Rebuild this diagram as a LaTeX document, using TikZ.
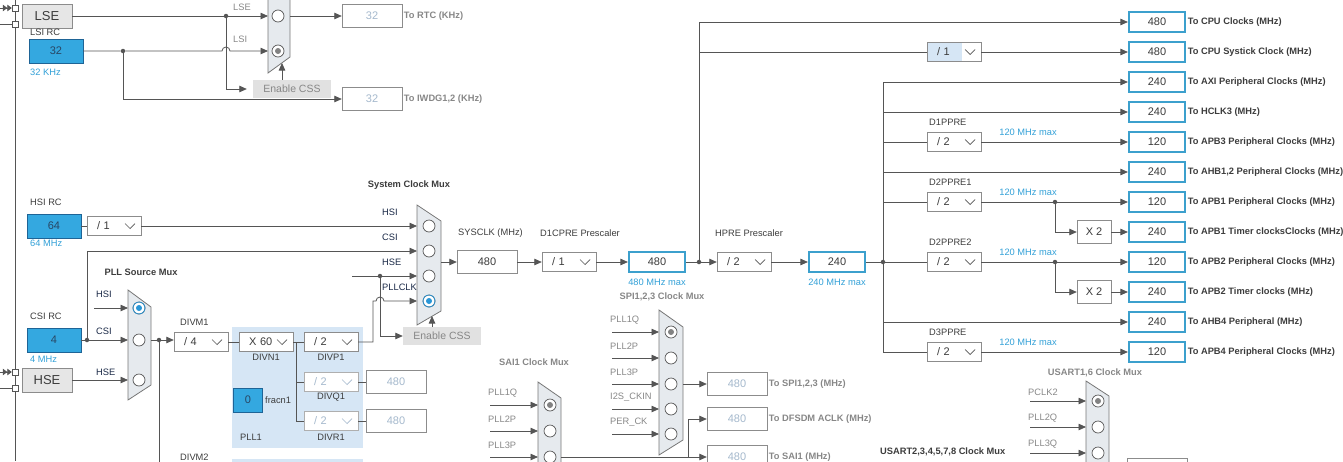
\documentclass[tikz,border=0pt]{standalone}
\usepackage{fontspec}
\setmainfont{Liberation Sans}
\usetikzlibrary{arrows.meta,calc}

\definecolor{linec}{RGB}{85,85,85}
\definecolor{boxedge}{RGB}{140,140,140}
\definecolor{darkc}{RGB}{60,60,60}
\definecolor{navyc}{RGB}{25,40,70}
\definecolor{offc}{RGB}{165,185,205}
\definecolor{graytxt}{RGB}{135,135,135}
\definecolor{bluetxt}{RGB}{50,160,215}
\definecolor{srcblue}{RGB}{52,168,224}
\definecolor{srcedge}{RGB}{30,100,150}
\definecolor{srctxt}{RGB}{40,70,100}
\definecolor{outblue}{RGB}{60,160,205}
\definecolor{selblue}{RGB}{40,150,215}
\definecolor{selgray}{RGB}{130,130,130}
\definecolor{pllbg}{RGB}{214,230,245}
\definecolor{muxfill}{RGB}{230,234,238}
\definecolor{oscfill}{RGB}{230,230,230}
\definecolor{cssfill}{RGB}{225,225,225}

\newcommand\lblf{\fontsize{9.3}{11}\selectfont}
\newcommand\valf{\fontsize{11}{13}\selectfont}

\tikzset{
  wire/.style={draw=linec, line width=0.8pt},
  arr/.style={wire, -{Triangle[length=7.5pt,width=6.5pt]}},
  jdot/.style={circle, fill=linec, inner sep=0pt, minimum size=4.5pt},
  pinbox/.style={draw=linec, fill=white, minimum size=6pt, inner sep=0pt},
  lbl/.style={font=\lblf, text=darkc, inner sep=1pt},
  boldlbl/.style={font=\lblf\bfseries, text=darkc, inner sep=1pt},
  navylbl/.style={font=\lblf, text=navyc, inner sep=1pt},
  offlbl/.style={font=\lblf, text=graytxt, inner sep=1pt},
  offbold/.style={font=\lblf\bfseries, text=graytxt, inner sep=1pt},
  bluelbl/.style={font=\lblf, text=bluetxt, inner sep=1pt},
  outlbl/.style={font=\lblf\bfseries, text=darkc, inner sep=1.5pt},
  offout/.style={font=\lblf\bfseries, text=graytxt, inner sep=1.5pt},
  srcbox/.style={draw=srcedge, fill=srcblue, minimum width=54pt, minimum height=24pt, inner sep=0pt, font=\valf, text=srctxt},
  oscbox/.style={draw=boxedge, fill=oscfill, minimum width=50pt, minimum height=24pt, inner sep=0pt, font=\fontsize{13}{15}\selectfont, text=darkc},
  valbox/.style={draw=boxedge, fill=white, minimum width=60pt, minimum height=23pt, inner sep=0pt, font=\valf, text=darkc},
  offbox/.style={valbox, text=offc},
  outbox/.style={draw=outblue, line width=2.2pt, fill=white, minimum width=56pt, minimum height=20pt, inner sep=0pt, font=\valf, text=darkc},
  cssbox/.style={fill=cssfill, minimum width=78pt, minimum height=18pt, inner sep=0pt, font=\fontsize{10.5}{12}\selectfont, text=graytxt},
  divbox/.style={draw=boxedge, fill=white, minimum height=19pt, text width=34pt, inner xsep=10pt, inner ysep=0pt, align=left, font=\valf, text=darkc,
    path picture={\draw[#1, line width=0.7pt] ([xshift=-16pt,yshift=2.5pt]path picture bounding box.east) -- ++(5pt,-5pt) -- ++(5pt,5pt);}},
  divbox/.default=linec,
  divoff/.style={divbox=offc, draw=boxedge!70, text=offc},
  divblue/.style={divbox, path picture={\fill[pllbg] (path picture bounding box.south west) rectangle ([xshift=-19pt]path picture bounding box.north east);
    \draw[linec, line width=0.7pt] ([xshift=-16pt,yshift=2.5pt]path picture bounding box.east) -- ++(5pt,-5pt) -- ++(5pt,5pt);}},
  mux/.style={draw=linec!80, fill=muxfill, line width=0.8pt},
  radio/.style={circle, draw=linec, line width=0.7pt, fill=white, minimum size=12pt, inner sep=0pt}
}

\begin{document}
\begin{tikzpicture}[x=1pt,y=-1pt]
\useasboundingbox (0,0) rectangle (1343,461);

% left bus and oscillators
\draw[wire] (15,0) -- (15,461);
\node[oscbox] (lse) at (47,16) {LSE};
\node[pinbox] (lsep1) at (15,8) {};
\node[pinbox] (lsep2) at (15,24) {};
\coordinate (lsein1) at (0,8);
\coordinate (lsein2) at (0,24);
\draw[wire, -{Triangle[length=4.5pt,width=6.5pt] Triangle[length=4.5pt,width=6.5pt]}] (lsein1) -- (lsep1);
\draw[wire] (lsein2) -- (lsep2);
\node[oscbox] (hse) at (47,380) {HSE};
\node[pinbox] (hsep1) at (15,372) {};
\node[pinbox] (hsep2) at (15,388) {};
\coordinate (hsein1) at (0,372);
\coordinate (hsein2) at (0,388);
\draw[wire, -{Triangle[length=4.5pt,width=6.5pt] Triangle[length=4.5pt,width=6.5pt]}] (hsein1) -- (hsep1);
\draw[wire] (hsein2) -- (hsep2);

% LSI and RTC mux
\node[lbl, anchor=west] at (29,32) {LSI RC};
\node[srcbox] (lsi) at (56,51) {32};
\node[bluelbl, anchor=west] at (29,72) {32 KHz};
\draw[mux] (268,-20) -- (290,-4) -- (290,57) -- (268,73) -- cycle;
\coordinate (rtcL) at (268,0);
\coordinate (rtcR) at (290,0);
\coordinate (rtcB) at (282,63);
\node[radio] (rtc1) at (278,16) {};
\node[radio] (rtc2) at (278,51) {};
\fill[selgray] (rtc2) circle (3pt);
\node[offlbl, anchor=west] at (232,7) {LSE};
\node[offlbl, anchor=west] at (232,39) {LSI};
\node[jdot] (lsedot) at (226,16) {};
\node[jdot] (lsidot) at (123,51) {};
\coordinate (hop1) at (226,51);
\draw[arr] (lse) -- (lsedot) -- (rtc1 -| rtcL);
\draw[arr] (lsi) -- (lsidot) -- ([xshift=-4pt]hop1) arc[start angle=180,end angle=0,radius=4pt] -- (rtc2 -| rtcL);
\node[cssbox] (css1) at (292,89) {Enable CSS};
\draw[arr, shorten >=6pt] (lsedot) |- (css1);
\draw[arr] (css1.north -| rtcB) -- (rtcB);
\node[offbox] (rtc) at (372,16) {32};
\node[offout, anchor=west] at (rtc.east) {To RTC (KHz)};
\draw[arr] (rtc1 -| rtcR) -- (rtc);
\node[offbox] (iwdg) at (372,99) {32};
\node[offout, anchor=west] at (iwdg.east) {To IWDG1,2 (KHz)};
\draw[arr] (lsidot) |- (iwdg);

% HSI, CSI
\node[lbl, anchor=west] at (29,202) {HSI RC};
\node[srcbox] (hsi) at (54,226) {64};
\node[bluelbl, anchor=west] at (29,243) {64 MHz};
\node[divbox] (hsidiv) at (114,226) {/ 1};
\draw[wire] (hsi) -- (hsidiv);
\node[lbl, anchor=west] at (29,316) {CSI RC};
\node[srcbox] (csi) at (54,340) {4};
\node[bluelbl, anchor=west] at (29,359) {4 MHz};
\node[jdot] (csidot) at (87,340) {};
\draw[wire] (csi) -- (csidot);

% system clock mux
\node[boldlbl] at (409,185) {System Clock Mux};
\draw[mux] (417,205) -- (441,221) -- (441,311) -- (417,325) -- cycle;
\coordinate (sysL) at (417,0);
\coordinate (sysR) at (441,262);
\coordinate (sysB) at (432,316);
\foreach \n/\y/\t in {1/226/HSI,2/251/CSI,3/276/HSE,4/301/PLLCLK}{
  \node[radio] (sys\n) at (429,\y) {};
  \node[navylbl, anchor=west] at (381,\y-14) {\t};
}
\draw[selblue, line width=0.7pt] (sys4) circle (6pt);
\fill[selblue] (sys4) circle (3pt);
\draw[arr] (hsidiv) -- (sys1 -| sysL);
\draw[arr] (csidot) |- (sys2 -| sysL);
\coordinate (hsein) at (352,276);
\node[jdot] (hsedot) at (380,276) {};
\draw[wire] (hsein) -- (hsedot);
\draw[arr] (hsedot) -- (sys3 -| sysL);
\node[cssbox] (css2) at (442,336) {Enable CSS};
\draw[arr] (hsedot) |- (css2);
\draw[arr] (css2.north -| sysB) -- (sysB);

% PLL source mux
\node[boldlbl] at (141,272) {PLL Source Mux};
\draw[mux] (128,290) -- (151,307) -- (151,385) -- (128,400) -- cycle;
\coordinate (pllL) at (128,0);
\coordinate (pllR) at (151,340);
\node[radio] (pll1) at (139,308) {};
\node[radio] (pll2) at (139,340) {};
\node[radio] (pll3) at (139,380) {};
\draw[selblue, line width=0.7pt] (pll1) circle (6pt);
\fill[selblue] (pll1) circle (3pt);
\node[navylbl, anchor=west] at (95,294) {HSI};
\node[navylbl, anchor=west] at (95,331) {CSI};
\node[navylbl, anchor=west] at (95,372) {HSE};
\coordinate (pllhsi) at (94,308);
\draw[arr] (pllhsi) -- (pll1 -| pllL);
\draw[arr] (csidot) -- (pll2 -| pllL);
\draw[arr] (hse) -- (pll3 -| pllL);

% PLL1
\fill[pllbg] (232,327) rectangle (363,448);
\fill[pllbg] (232,459) rectangle (363,470);
\node[lbl, anchor=west] at (179,322) {DIVM1};
\node[divbox] (divm1) at (201,342) {/ 4};
\node[jdot] (plldot) at (159,340) {};
\coordinate (pllbot) at (159,470);
\draw[wire] (pllR) -- (plldot);
\draw[arr] (plldot) -- (divm1.west |- plldot);
\draw[wire] (plldot) -- (pllbot);
\node[divbox] (divn1) at (266,342) {X 60};
\node[lbl] at (266,357) {DIVN1};
\draw[wire] (divm1) -- (divn1);
\coordinate (pllbr) at (296,342);
\node[divbox] (divp1) at (331,342) {/ 2};
\node[divoff] (divq1) at (331,382) {/ 2};
\node[divoff] (divr1) at (331,421) {/ 2};
\node[lbl] at (331,357) {DIVP1};
\node[lbl] at (331,397) {DIVQ1};
\node[lbl] at (331,437) {DIVR1};
\draw[wire] (divn1) -- (divp1);
\draw[wire] (pllbr) |- (divq1);
\draw[wire] (pllbr) |- (divr1);
\node[offbox] (q1out) at (396,382) {480};
\node[offbox] (r1out) at (396,421) {480};
\draw[wire] (divq1) -- (q1out);
\draw[wire] (divr1) -- (r1out);
\node[srcbox, minimum width=29pt] (frac) at (248,400) {0};
\node[lbl, anchor=west] at (264,400) {fracn1};
\node[lbl, anchor=west] at (239,437) {PLL1};
\node[lbl, anchor=west] at (179,457) {DIVM2};
\coordinate (pllup) at (373,301);
\coordinate (hop2) at (380,301);
\draw[arr] (divp1) -| (pllup) -- ([xshift=-4pt]hop2) arc[start angle=180,end angle=0,radius=4pt] -- (sys4 -| sysL);

% SYSCLK chain
\node[lbl, anchor=west] at (457,233) {SYSCLK (MHz)};
\node[valbox] (sysclk) at (487,262) {480};
\node[lbl, anchor=west] at (539,233) {D1CPRE Prescaler};
\node[divbox] (d1cpre) at (569,262) {/ 1};
\node[outbox] (cpuclk) at (657,262) {480};
\node[bluelbl] at (657,282) {480 MHz max};
\node[jdot] (cpudot) at (699,262) {};
\node[lbl, anchor=west] at (714,233) {HPRE Prescaler};
\node[divbox] (hpre) at (744,262) {/ 2};
\node[outbox] (hclk) at (837,262) {240};
\node[bluelbl] at (837,282) {240 MHz max};
\node[jdot] (ahbdot) at (883,262) {};
\draw[arr] (sysR) -- (sysclk);
\draw[arr] (sysclk) -- (d1cpre);
\draw[arr] (d1cpre) -- (cpuclk);
\draw[wire] (cpuclk) -- (cpudot);
\draw[arr] (cpudot) -- (hpre);
\draw[arr] (hpre) -- (hclk);
\draw[wire] (hclk) -- (ahbdot);

% outputs on the right
\foreach \i/\v/\t in {1/480/To CPU Clocks (MHz), 2/480/To CPU Systick Clock (MHz),
  3/240/To AXI Peripheral Clocks (MHz), 4/240/To HCLK3 (MHz),
  5/120/To APB3 Peripheral Clocks (MHz), 6/240/{To AHB1,2 Peripheral Clocks (MHz)},
  7/120/To APB1 Peripheral Clocks (MHz), 8/240/To APB1 Timer clocksClocks (MHz),
  9/120/To APB2 Peripheral Clocks (MHz), 10/240/To APB2 Timer clocks (MHz),
  11/240/To AHB4 Peripheral (MHz), 12/120/To APB4 Peripheral Clocks (MHz)}{
  \node[outbox] (o\i) at (1157,30*\i-8) {\v};
  \node[outlbl, anchor=west] at (o\i.east) {\t};
}
\draw[arr] (cpudot) |- (o1);
\node[divblue] (systick) at (954,52) {/ 1};
\draw[wire] (cpudot |- systick) -- (systick);
\draw[arr] (systick) -- (o2);
\draw[arr] (ahbdot) |- (o3);
\draw[arr] (ahbdot |- o4) -- (o4);
\node[divbox] (d1ppre) at (954,142) {/ 2};
\draw[wire] (ahbdot |- d1ppre) -- (d1ppre);
\draw[arr] (d1ppre) -- (o5);
\draw[arr] (ahbdot |- o6) -- (o6);
\node[divbox] (d2ppre1) at (954,202) {/ 2};
\draw[wire] (ahbdot |- d2ppre1) -- (d2ppre1);
\node[jdot] (apb1dot) at (1055,202) {};
\draw[wire] (d2ppre1) -- (apb1dot);
\draw[arr] (apb1dot) -- (o7);
\node[valbox, minimum width=34pt] (tim1) at (1094,232) {X 2};
\draw[arr] (apb1dot) |- (tim1);
\draw[arr] (tim1) -- (o8);
\node[divbox] (d2ppre2) at (954,262) {/ 2};
\draw[wire] (ahbdot) -- (d2ppre2);
\node[jdot] (apb2dot) at (1055,262) {};
\draw[wire] (d2ppre2) -- (apb2dot);
\draw[arr] (apb2dot) -- (o9);
\node[valbox, minimum width=34pt] (tim2) at (1094,292) {X 2};
\draw[arr] (apb2dot) |- (tim2);
\draw[arr] (tim2) -- (o10);
\draw[arr] (ahbdot |- o11) -- (o11);
\node[divbox] (d3ppre) at (954,352) {/ 2};
\draw[wire] (ahbdot) |- (d3ppre);
\draw[arr] (d3ppre) -- (o12);
\foreach \n/\y in {D1PPRE/122, D2PPRE1/182, D2PPRE2/242, D3PPRE/332}
  \node[lbl, anchor=west] at (928,\y) {\n};
\foreach \y in {132,192,252,342}
  \node[bluelbl] at (1028,\y) {120 MHz max};

% SPI1,2,3 clock mux
\node[offbold] at (662,297) {SPI1,2,3 Clock Mux};
\draw[mux] (659,310) -- (683,327) -- (683,440) -- (659,455) -- cycle;
\coordinate (spiL) at (659,0);
\coordinate (spiR) at (683,0);
\foreach \n/\y/\t in {1/332/PLL1Q,2/358/PLL2P,3/384/PLL3P,4/409/I2S\_CKIN,5/434/PER\_CK}{
  \coordinate (spiin\n) at (612,\y);
  \node[radio] (spi\n) at (671,\y) {};
  \draw[arr] (spiin\n) -- (spi\n -| spiL);
  \node[offlbl, anchor=west] at (609,\y-12) {\t};
}
\fill[selgray] (spi1) circle (3pt);
\node[offbox] (spi) at (737,384) {480};
\node[offout, anchor=west] at (spi.east) {To SPI1,2,3 (MHz)};
\draw[arr] (spi3 -| spiR) -- (spi);
\node[offbox] (dfsdm) at (737,419) {480};
\node[offout, anchor=west] at (dfsdm.east) {To DFSDM ACLK (MHz)};
\node[offbox] (sai) at (737,457) {480};
\node[offout, anchor=west] at (sai.east) {To SAI1 (MHz)};

% SAI1 clock mux
\node[offbold] at (534,362) {SAI1 Clock Mux};
\draw[mux] (538,382) -- (561,398) -- (561,480) -- (538,495) -- cycle;
\coordinate (saiL) at (538,0);
\coordinate (saiR) at (561,0);
\foreach \n/\y/\t in {1/405/PLL1Q,2/431/PLL2P,3/457/PLL3P}{
  \coordinate (saiin\n) at (490,\y);
  \node[radio] (sai\n) at (550,\y) {};
  \draw[arr] (saiin\n) -- (sai\n -| saiL);
  \node[offlbl, anchor=west] at (487,\y-12) {\t};
}
\fill[selgray] (sai1) circle (3pt);
\coordinate (saibr) at (688,457);
\draw[arr] (sai3 -| saiR) -- (sai);
\draw[arr] (saibr) |- (dfsdm);

% USART clock muxes
\node[offbold] at (1095,373) {USART1,6 Clock Mux};
\draw[mux] (1086,381) -- (1109,396) -- (1109,480) -- (1086,495) -- cycle;
\coordinate (usL) at (1086,0);
\foreach \n/\y/\t in {1/401/PCLK2,2/427/PLL2Q,3/453/PLL3Q}{
  \coordinate (usin\n) at (1030,\y);
  \node[radio] (us\n) at (1098,\y) {};
  \draw[arr] (usin\n) -- (us\n -| usL);
  \node[offlbl, anchor=west] at (1027,\y-9) {\t};
}
\fill[selgray] (us1) circle (3pt);
\node[offbox] (usart) at (1157,470) {};
\node[boldlbl, anchor=west] at (879,452) {USART2,3,4,5,7,8 Clock Mux};
\end{tikzpicture}
\end{document}
